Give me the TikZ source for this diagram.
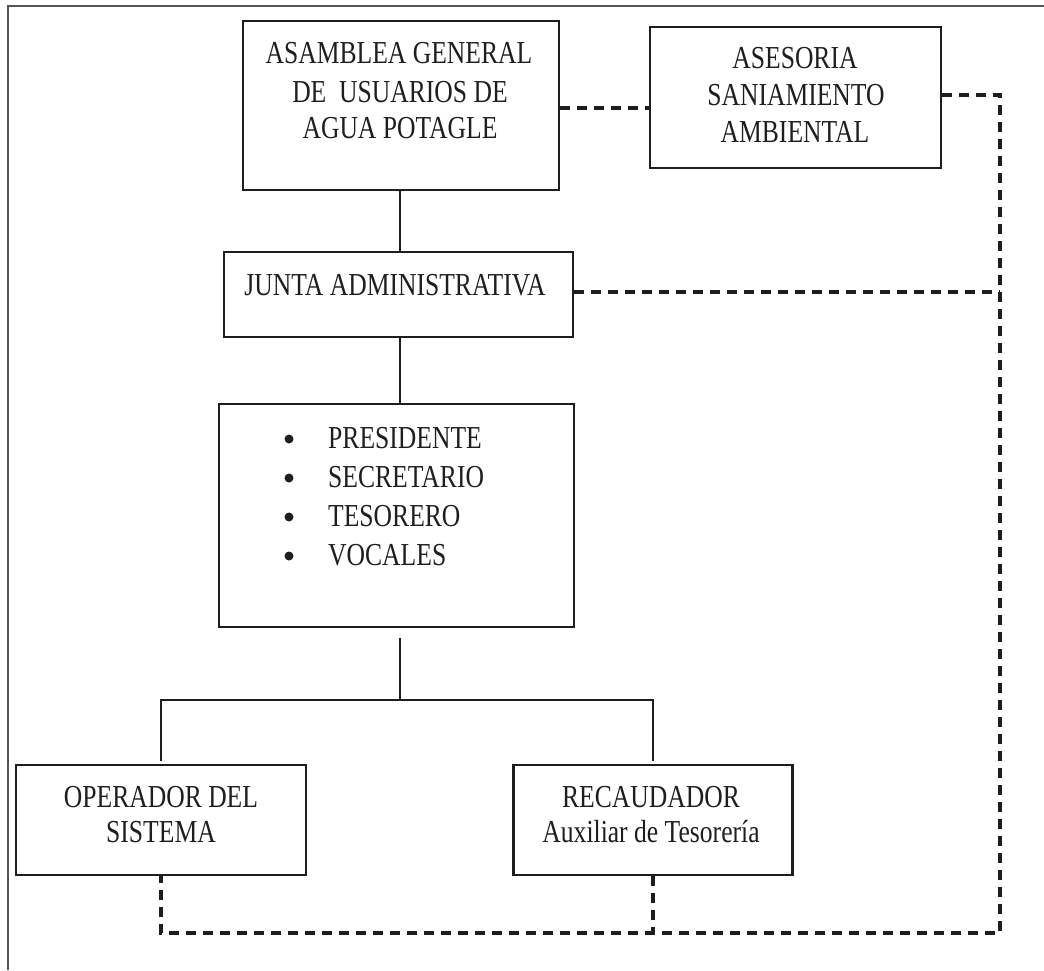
\documentclass[tikz,border=0pt]{standalone}
\usepackage{fontspec}
\setmainfont{Liberation Serif}[FakeStretch=0.80]
\definecolor{ink}{HTML}{1E1E1E}
\definecolor{framec}{HTML}{555555}
\begin{document}
\begin{tikzpicture}[x=1pt,y=-1pt,
  box/.style={draw=ink, line width=2.8pt, inner sep=0pt},
  txt/.style={anchor=base, inner sep=0pt, font=\fontsize{32}{38}\selectfont, text=ink},
  dot/.style={circle, fill=ink, inner sep=0pt, minimum size=9pt},
  conn/.style={draw=ink, line width=2pt},
  dsh/.style={draw=ink, line width=3.2pt, dash pattern=on 10pt off 7pt},
  framel/.style={draw=framec, line width=2pt}]
\useasboundingbox (0,0) rectangle (1044,970);
% outer frame
\draw[framel] (8,970) -- (8,6) -- (1044,6);
% boxes
\node[box, minimum width=316pt, minimum height=169pt] (asm) at (401,105.5) {};
\node[box, minimum width=291pt, minimum height=141pt] (ase) at (795.5,97.5) {};
\node[box, minimum width=349pt, minimum height=85pt] (junta) at (398.5,294.5) {};
\node[box, minimum width=355pt, minimum height=223pt] (mem) at (396.5,515.5) {};
\node[box, minimum width=290pt, minimum height=110pt] (ope) at (161,820) {};
\node[box, minimum width=279pt, minimum height=110pt] (rec) at (653,820) {};
% texts
\node[txt] (t1) at (399,63) {ASAMBLEA GENERAL};
\node[txt] (t2) at (400,102) {DE~ USUARIOS DE};
\node[txt] (t3) at (400,138) {AGUA POTAGLE};
\node[txt] (t4) at (795,68) {ASESORIA};
\node[txt] (t5) at (796,105) {SANIAMIENTO};
\node[txt] (t6) at (795,142) {AMBIENTAL};
\node[txt] (t7) at (395,295) {JUNTA ADMINISTRATIVA};
\node[dot] (b1) at (289,439) {};
\node[dot] (b2) at (289,478) {};
\node[dot] (b3) at (289,517) {};
\node[dot] (b4) at (289,556) {};
\node[txt, anchor=base west] (m1) at (328,448) {PRESIDENTE};
\node[txt, anchor=base west] (m2) at (328,487) {SECRETARIO};
\node[txt, anchor=base west] (m3) at (328,526) {TESORERO};
\node[txt, anchor=base west] (m4) at (328,565) {VOCALES};
\node[txt] (o1) at (161,807) {OPERADOR DEL};
\node[txt] (o2) at (161,842) {SISTEMA};
\node[txt] (r1) at (651,807) {RECAUDADOR};
\node[txt] (r2) at (651,842) {Auxiliar de Tesorería};
% solid connectors
\coordinate (br) at (400,700);
\coordinate (mbot) at ([yshift=-10pt]mem.south);
\draw[conn] (asm.south -| br) -- (junta.north -| br);
\draw[conn] (junta.south -| br) -- (mem.north -| br);
\draw[conn] (mbot -| br) -- (br);
\draw[conn] ([yshift=3pt]ope.north) -- (ope.north |- br) -- (rec.north |- br) -- ([yshift=3pt]rec.north);
% dashed connectors
\coordinate (c1) at (0,108);
\coordinate (c2) at (0,292);
\coordinate (rtop) at (1000,95);
\coordinate (rbot) at (1000,933);
\draw[dsh] (asm.east |- c1) -- (ase.west |- c1);
\draw[dsh] (ase.east |- rtop) -- (rtop) -- (rbot) -- (ope.south |- rbot) -- (ope.south);
\draw[dsh] (junta.east |- c2) -- (rtop |- c2);
\draw[dsh] (rec.south) -- (rec.south |- rbot);
\end{tikzpicture}
\end{document}
